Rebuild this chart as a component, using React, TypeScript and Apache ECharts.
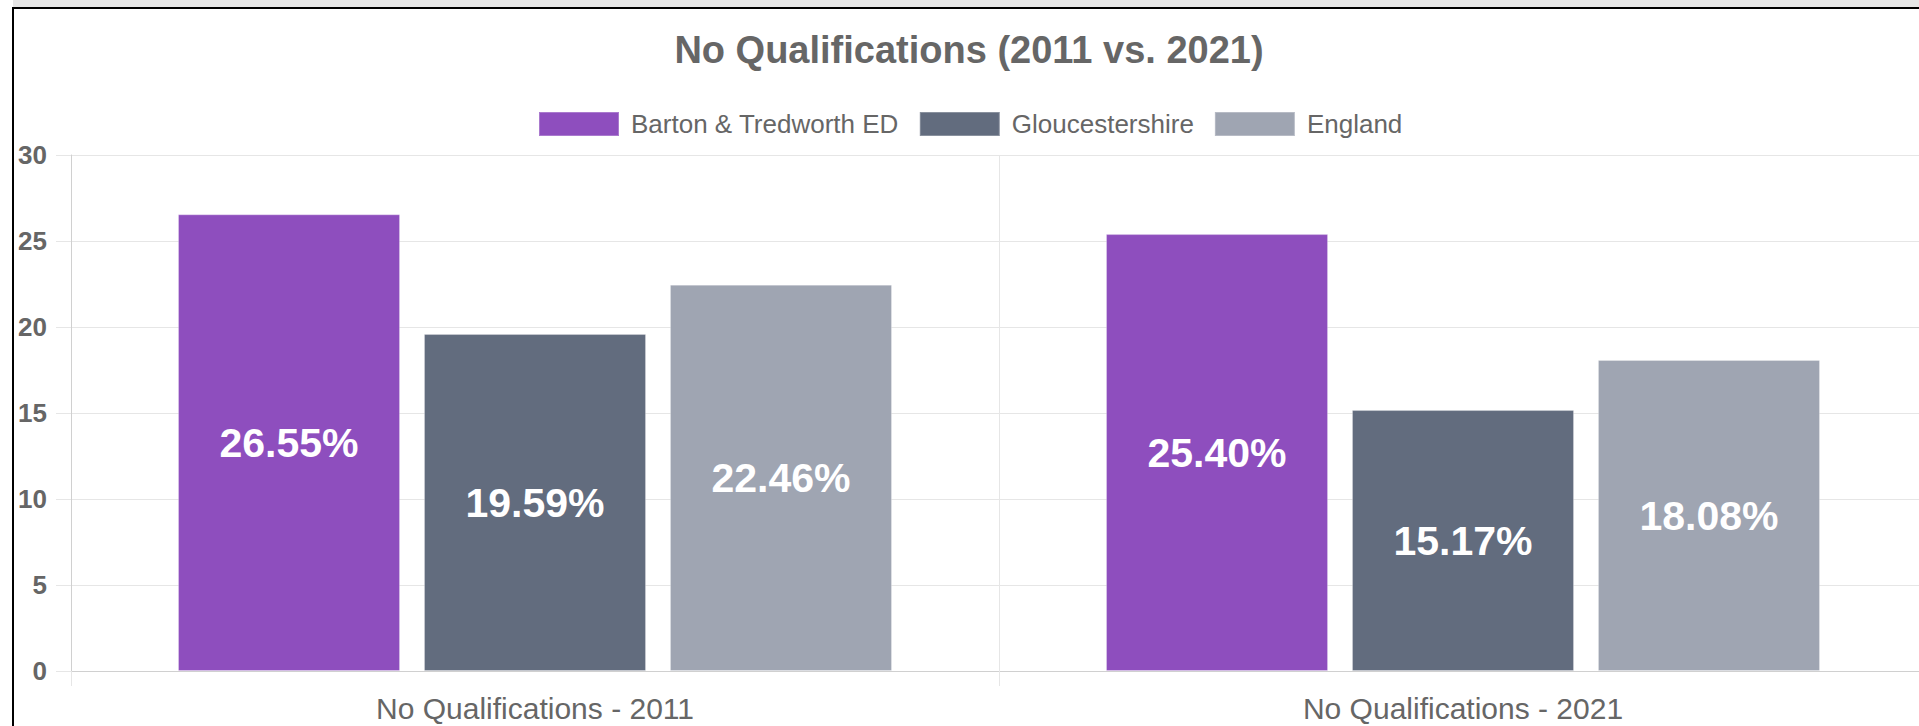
import React, { useEffect, useRef } from "react";
import * as echarts from "echarts";

const categories = ["No Qualifications - 2011", "No Qualifications - 2021"];
const seriesNames = ["Barton & Tredworth ED", "Gloucestershire", "England"];
const bartonValues = [26.55, 25.4];
const gloucestershireValues = [19.59, 15.17];
const englandValues = [22.46, 18.08];
const seriesColors = ["#8e4ebe", "#626c7e", "#9fa5b2"];
const yTicks = { min: 0, max: 30, interval: 5 };

const FONT = "'Liberation Sans', Arial, Helvetica, sans-serif";

export default function App() {
  const ref = useRef<HTMLDivElement>(null);

  useEffect(() => {
    if (!ref.current) return;
    const chart = echarts.init(ref.current, undefined, { renderer: "svg" });
    const values = [bartonValues, gloucestershireValues, englandValues];
    const grid = "#e6e6e6";
    chart.setOption({
      animation: false,
      textStyle: { fontFamily: FONT },
      title: {
        text: "No Qualifications (2011 vs. 2021)",
        left: 969,
        top: 31,
        padding: 0,
        textAlign: "center",
        textStyle: { fontFamily: FONT, fontSize: 38, fontWeight: "bold", color: "#666666" },
      },
      legend: {
        left: 538,
        top: 111,
        padding: 0,
        itemWidth: 80,
        itemHeight: 24,
        itemGap: 20,
        icon: "rect",
        data: seriesNames,
        textStyle: { fontFamily: FONT, fontSize: 26, color: "#666666", padding: [0, 0, 0, 7] },
      },
      grid: { left: 71, top: 155, width: 1856, height: 516, containLabel: false },
      xAxis: {
        type: "category",
        data: categories,
        boundaryGap: true,
        axisLine: { show: true, lineStyle: { color: "#d0d0d0", width: 1 } },
        axisTick: { show: true, length: 15, lineStyle: { color: grid } },
        splitLine: { show: true, lineStyle: { color: grid, width: 1 } },
        axisLabel: { fontFamily: FONT, fontSize: 30, color: "#666666", margin: 22 },
      },
      yAxis: {
        type: "value",
        min: yTicks.min,
        max: yTicks.max,
        interval: yTicks.interval,
        axisLine: { show: true, lineStyle: { color: "#d0d0d0", width: 1 } },
        axisTick: { show: true, length: 15, lineStyle: { color: grid } },
        splitLine: { show: true, lineStyle: { color: grid, width: 1 } },
        axisLabel: { fontFamily: FONT, fontSize: 26, fontWeight: "bold", color: "#666666", margin: 24 },
      },
      series: seriesNames.map((name, i) => ({
        name,
        type: "bar",
        data: values[i],
        barWidth: 222,
        barGap: "10.8%",
        itemStyle: { color: seriesColors[i], borderColor: "rgba(255,255,255,0.25)", borderWidth: 1 },
        label: {
          show: true,
          position: "inside",
          formatter: (p: any) => `${Number(p.value).toFixed(2)}%`,
          fontFamily: FONT,
          fontSize: 41,
          fontWeight: "bold",
          color: "#ffffff",
        },
      })),
    });
    return () => chart.dispose();
  }, []);

  return (
    <div
      style={{
        position: "absolute",
        left: 0,
        top: 0,
        width: 1919,
        height: 726,
        overflow: "hidden",
        background: "#ffffff",
      }}
    >
      <div style={{ position: "absolute", left: 13, top: 0, width: 1906, height: 7, background: "#e6e6e6" }} />
      <div ref={ref} style={{ position: "absolute", left: 0, top: 0, width: 1940, height: 726 }} />
      <div style={{ position: "absolute", left: 12, top: 7, width: 1907, height: 2, background: "#000000" }} />
      <div style={{ position: "absolute", left: 12, top: 7, width: 2, height: 719, background: "#000000" }} />
    </div>
  );
}
